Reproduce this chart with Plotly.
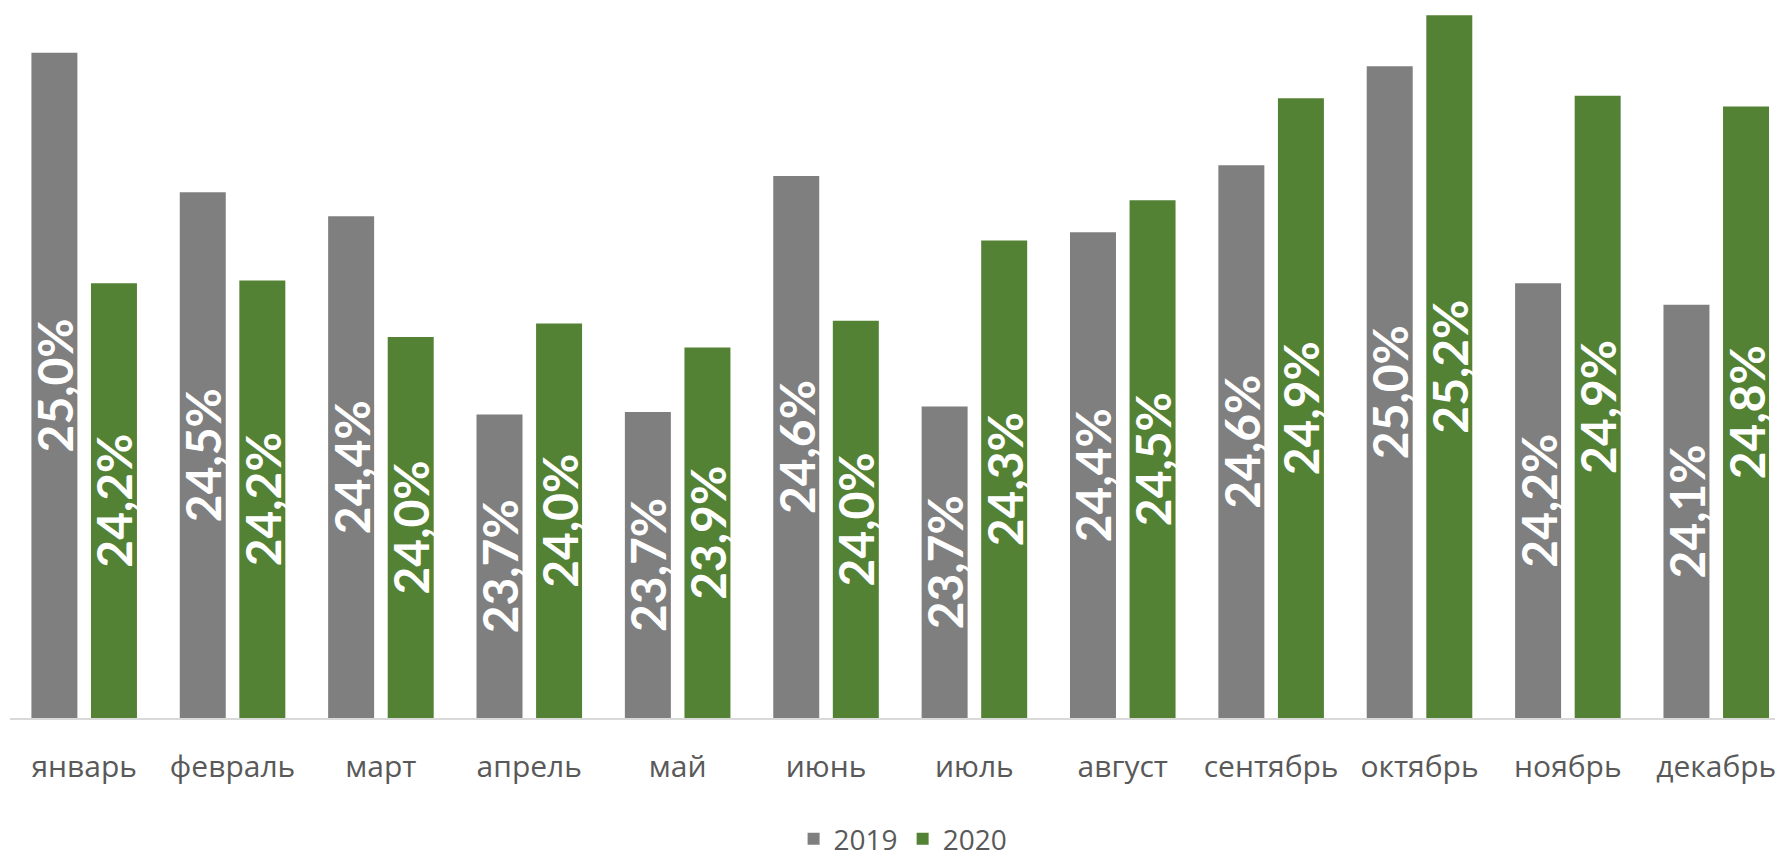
import plotly.graph_objects as go

months = ["январь", "февраль", "март", "апрель", "май", "июнь",
          "июль", "август", "сентябрь", "октябрь", "ноябрь", "декабрь"]
share_2019 = [25.04, 24.52, 24.43, 23.69, 23.70, 24.58, 23.72, 24.37, 24.62, 24.99, 24.18, 24.10]
share_2020 = [24.18, 24.19, 23.98, 24.03, 23.94, 24.04, 24.34, 24.49, 24.87, 25.18, 24.88, 24.84]
series_names = ["2019", "2020"]

AXIS_MIN = 22.558
AXIS_MAX = 25.237
colors = ["#7F7F7F", "#548235"]


def fmt(v):
    return f"{v:.1f}%".replace(".", ",")


fig = go.Figure()
for name, vals, col in zip(series_names, [share_2019, share_2020], colors):
    fig.add_trace(go.Bar(
        x=months,
        y=[v - AXIS_MIN for v in vals],
        base=AXIS_MIN,
        name=name,
        marker=dict(color=col, line=dict(width=0)),
        text=[fmt(v) for v in vals],
        textposition="inside",
        insidetextanchor="middle",
        textangle=-90,
        constraintext="none",
        textfont=dict(family="Lato, Open Sans, sans-serif", size=48, color="white", weight="bold"),
        hoverinfo="skip",
    ))

fig.update_layout(
    width=1775, height=858,
    margin=dict(l=10, r=0, t=0, b=140, pad=0, autoexpand=False),
    paper_bgcolor="white", plot_bgcolor="white",
    barmode="group", bargap=0.197, bargroupgap=0.228,
    showlegend=True,
    legend=dict(orientation="h", xanchor="center", x=0.506,
                yref="container", yanchor="middle", y=0.022,
                font=dict(family="Open Sans, sans-serif", size=28, color="#595959"),
                itemwidth=30, tracegroupgap=0),
    xaxis=dict(range=[-0.5, 11.396], showline=True, linecolor="#D9D9D9", linewidth=2,
               ticks="", showgrid=False, zeroline=False, automargin=False,
               tickfont=dict(family="Open Sans, sans-serif", size=30, color="#595959"),
               ticklabelstandoff=21),
    yaxis=dict(range=[AXIS_MIN, AXIS_MAX], visible=False, showgrid=False, zeroline=False),
)

fig.write_html("out.html", config={"displayModeBar": False},
               post_script="document.body.style.margin='0';document.body.style.overflow='hidden';")
